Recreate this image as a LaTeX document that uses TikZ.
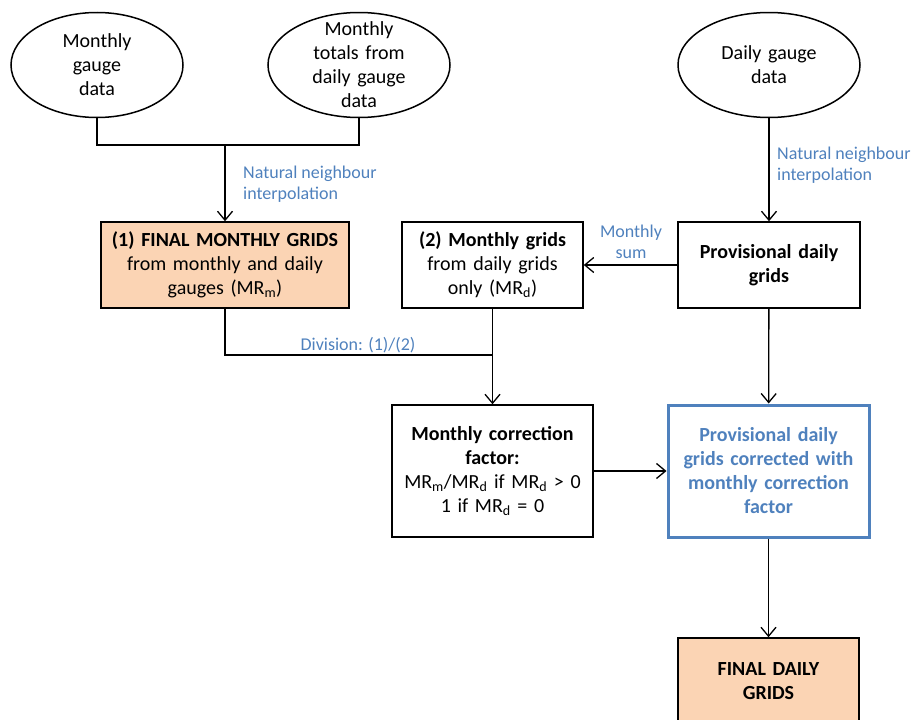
\documentclass[tikz,border=0pt]{standalone}
\usepackage{fontspec}
\setmainfont{Carlito}
\usetikzlibrary{shapes,arrows.meta,calc}
\definecolor{mblue}{HTML}{4F81BD}
\definecolor{mpeach}{HTML}{FBD4B4}
\tikzstyle{gdata}=[ellipse, draw=black, line width=1.5pt, minimum width=182pt, minimum height=105pt, inner sep=-10pt, text width=110pt, align=center, font=\fontsize{20}{24}\selectfont]
\tikzstyle{gbox}=[rectangle, draw=black, line width=1.5pt, minimum width=182pt, minimum height=86pt, text width=176pt, inner sep=0pt, align=center, font=\fontsize{20}{24}\selectfont]
\tikzstyle{fbox}=[gbox, fill=mpeach]
\tikzstyle{lbl}=[text=mblue, inner sep=0pt, font=\fontsize{18}{21.6}\selectfont]
\tikzstyle{l1}=[line width=1.3pt]
\tikzstyle{arr}=[l1, -{Straight Barb[length=9pt, width=15pt]}]

\begin{document}
\begin{tikzpicture}[x=1pt, y=-1pt]
    \clip (0,0) rectangle (914,720);

    % gauge data
    \node[gdata, minimum width=172pt] at (97,65) (mg) {Monthly\\gauge\\data};
    \node[gdata] at (359,65) (mt) {Monthly\\totals from\\daily gauge\\data};
    \node[gdata] at (769,65) (dg) {Daily gauge\\data};

    % grids
    \node[fbox, minimum width=248pt, text width=240pt] at (225,265) (fm) {\textbf{(1) FINAL MONTHLY GRIDS}\\from monthly and daily\\gauges (MR\textsubscript{m})};
    \node[gbox, minimum width=181pt] at (492.5,265) (md) {\textbf{(2) Monthly grids}\\from daily grids\\only (MR\textsubscript{d})};
    \node[gbox] at (769,265) (pd) {\textbf{Provisional daily\\grids}};
    \node[gbox, minimum width=201pt, minimum height=132pt, text width=195pt] at (492.5,471) (cf) {\textbf{Monthly correction\\factor:}\\MR\textsubscript{m}/MR\textsubscript{d} if MR\textsubscript{d} > 0\\1 if MR\textsubscript{d} = 0};
    \node[gbox, draw=mblue, line width=3pt, text=mblue, minimum width=201pt, minimum height=132pt, text width=195pt] at (768.5,471) (pc) {\textbf{Provisional daily\\grids corrected with\\monthly correction\\factor}};
    \node[fbox, minimum width=181pt] at (768.5,681) (fd) {\textbf{FINAL DAILY\\GRIDS}};

    % connectors
    \coordinate (j0) at (fm.north |- 0,145);
    \coordinate (j1) at (md.south |- 0,355);
    \draw[l1] (mg.south) |- (j0) -| (mt.south);
    \draw[arr] (j0) -- (fm);
    \draw[arr] (dg) -- (pd);
    \draw[arr] (pd) -- (md);
    \draw[l1] (fm.south) |- (j1);
    \draw[arr] (md) -- (cf);
    \draw[arr] (cf) -- (pc);
    \draw[arr] (pd) -- (pc);
    \draw[arr] (pc) -- (fd);

    % labels
    \node[lbl, anchor=west, align=left] at (243,184) (nn1) {Natural neighbour\\interpolation};
    \node[lbl, anchor=west, align=left] at (777,165) (nn2) {Natural neighbour\\interpolation};
    \node[lbl, align=center] at (631,242) (ms) {Monthly\\sum};
    \node[lbl] at (358,345) (dv) {Division: (1)/(2)};
\end{tikzpicture}
\end{document}
